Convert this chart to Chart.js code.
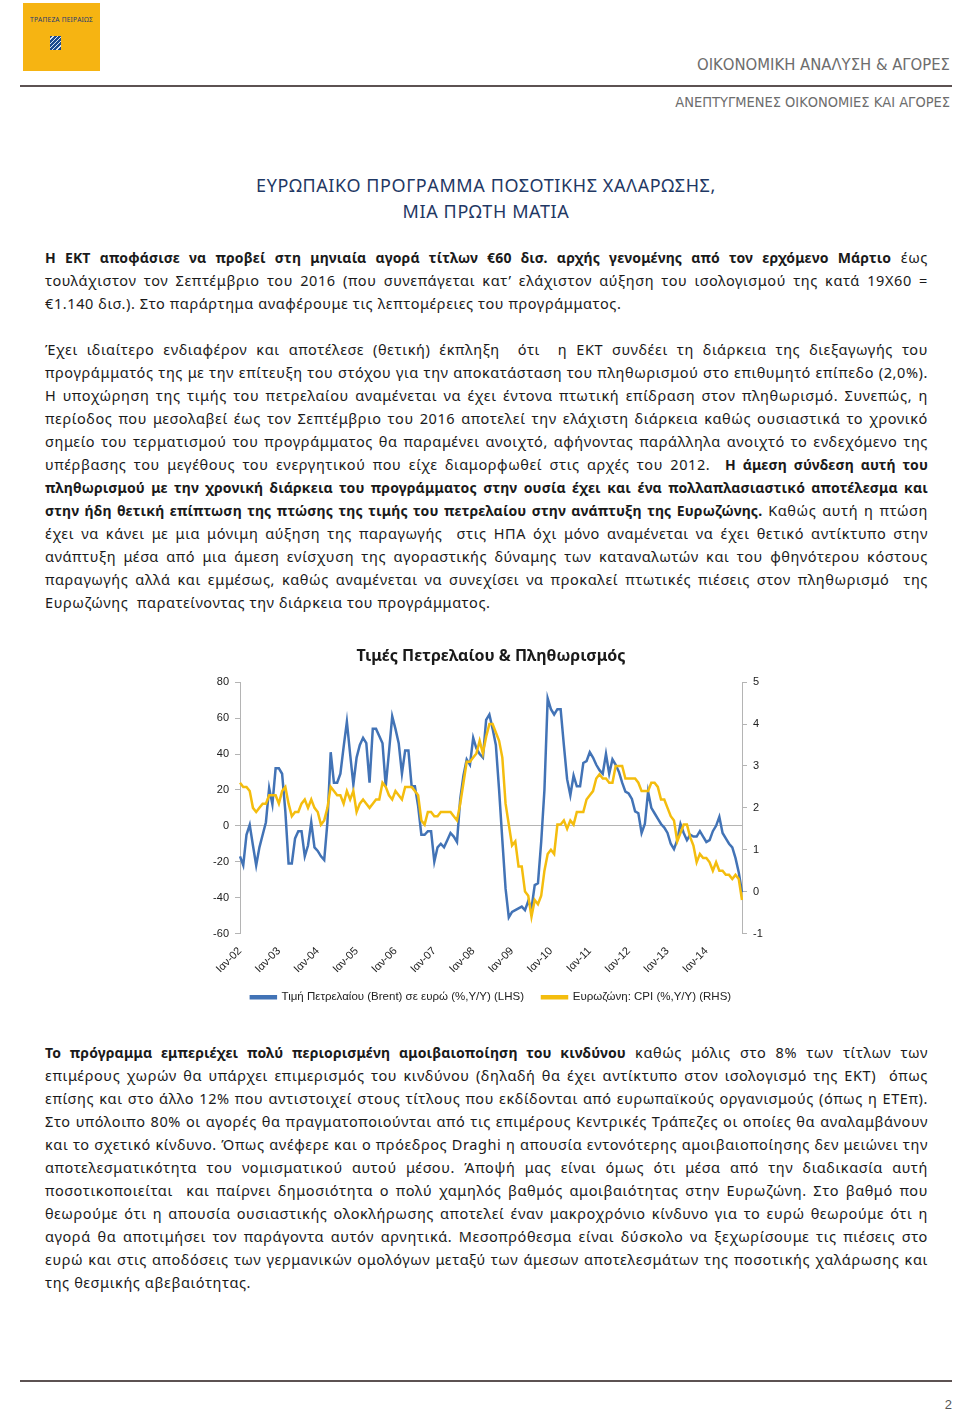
<!DOCTYPE html>
<html lang="el">
<head>
<meta charset="utf-8">
<script src="https://cdn.jsdelivr.net/npm/chart.js@4.4.1/dist/chart.umd.min.js"></script>
<style>
  body { margin: 0; background: #fff; }
  #page { position: relative; width: 960px; height: 1416px; overflow: hidden;
          font-family: "Noto Sans", "Open Sans", sans-serif; color: #1a1a1a; }
  .abs { position: absolute; }
  #logo { left: 23px; top: 3px; width: 77px; height: 68px; background: #f6b412; }
  #logo .bank { position: absolute; left: 0; width: 77px; top: 12px; text-align: center;
                font-size: 6.6px; color: #1d3a73; letter-spacing: 0.2px; white-space: nowrap; }
  #logo .icon { position: absolute; left: 27px; top: 33px; width: 11px; height: 14px;
                background: repeating-linear-gradient(135deg, #1d4a8f 0 2px, #d9e3f2 2px 3px); }
  .hdr { right: 10px; color: #6d6d6d; font-family: "Liberation Sans Narrow", "DejaVu Sans Condensed", sans-serif; white-space: nowrap; }
  .rule { left: 20px; width: 932px; height: 2px; background: #5c5252; }
  #title { left: 0; width: 972px; top: 172px; text-align: center; color: #1f3864;
           font-size: 18px; letter-spacing: 0.6px; line-height: 26px; }
  .para { left: 45px; width: 883px; font-size: 14.5px; letter-spacing: 0.6px; line-height: 23px; }
  .ln { white-space: nowrap; }
  .j { text-align: justify; text-align-last: justify; }
  b { font-weight: 700; font-size: 14px; letter-spacing: 0.15px; }
  #chartBox { left: 0; top: 643px; width: 960px; height: 370px; }
</style>
</head>
<body>
<div id="page">
  <div id="logo" class="abs"><div class="bank">ΤΡΑΠΕΖΑ ΠΕΙΡΑΙΩΣ</div><div class="icon"></div></div>
  <div class="abs hdr" style="top:55px;font-size:16.5px;">ΟΙΚΟΝΟΜΙΚΗ ΑΝΑΛΥΣΗ &amp; ΑΓΟΡΕΣ</div>
  <div class="abs rule" style="top:85px;"></div>
  <div class="abs hdr" style="top:94px;font-size:14.5px;">ΑΝΕΠΤΥΓΜΕΝΕΣ ΟΙΚΟΝΟΜΙΕΣ ΚΑΙ ΑΓΟΡΕΣ</div>

  <div id="title" class="abs">ΕΥΡΩΠΑΙΚΟ ΠΡΟΓΡΑΜΜΑ ΠΟΣΟΤΙΚΗΣ ΧΑΛΑΡΩΣΗΣ,<br>ΜΙΑ ΠΡΩΤΗ ΜΑΤΙΑ</div>

  <div class="abs para" style="top:246px;">
    <div class="ln j"><b>Η ΕΚΤ αποφάσισε να προβεί στη μηνιαία αγορά τίτλων €60 δισ. αρχής γενομένης από τον ερχόμενο Μάρτιο</b> έως</div>
    <div class="ln j">τουλάχιστον τον Σεπτέμβριο του 2016 (που συνεπάγεται κατ’ ελάχιστον αύξηση του ισολογισμού της κατά 19Χ60 =</div>
    <div class="ln">€1.140 δισ.). Στο παράρτημα αναφέρουμε τις λεπτομέρειες του προγράμματος.</div>
  </div>

  <div class="abs para" style="top:338px;">
    <div class="ln j">Έχει ιδιαίτερο ενδιαφέρον και αποτέλεσε (θετική) έκπληξη &nbsp;ότι &nbsp;η ΕΚΤ συνδέει τη διάρκεια της διεξαγωγής του</div>
    <div class="ln j">προγράμματός της με την επίτευξη του στόχου για την αποκατάσταση του πληθωρισμού στο επιθυμητό επίπεδο (2,0%).</div>
    <div class="ln j">Η υποχώρηση της τιμής του πετρελαίου αναμένεται να έχει έντονα πτωτική επίδραση στον πληθωρισμό. Συνεπώς, η</div>
    <div class="ln j">περίοδος που μεσολαβεί έως τον Σεπτέμβριο του 2016 αποτελεί την ελάχιστη διάρκεια καθώς ουσιαστικά το χρονικό</div>
    <div class="ln j">σημείο του τερματισμού του προγράμματος θα παραμένει ανοιχτό, αφήνοντας παράλληλα ανοιχτό το ενδεχόμενο της</div>
    <div class="ln j">υπέρβασης του μεγέθους του ενεργητικού που είχε διαμορφωθεί στις αρχές του 2012. &nbsp;<b>Η άμεση σύνδεση αυτή του</b></div>
    <div class="ln j"><b>πληθωρισμού με την χρονική διάρκεια του προγράμματος στην ουσία έχει και ένα πολλαπλασιαστικό αποτέλεσμα και</b></div>
    <div class="ln j"><b>στην ήδη θετική επίπτωση της πτώσης της τιμής του πετρελαίου στην ανάπτυξη της Ευρωζώνης.</b> Καθώς αυτή η πτώση</div>
    <div class="ln j">έχει να κάνει με μια μόνιμη αύξηση της παραγωγής &nbsp;στις ΗΠΑ όχι μόνο αναμένεται να έχει θετικό αντίκτυπο στην</div>
    <div class="ln j">ανάπτυξη μέσα από μια άμεση ενίσχυση της αγοραστικής δύναμης των καταναλωτών και του φθηνότερου κόστους</div>
    <div class="ln j">παραγωγής αλλά και εμμέσως, καθώς αναμένεται να συνεχίσει να προκαλεί πτωτικές πιέσεις στον πληθωρισμό &nbsp;της</div>
    <div class="ln">Ευρωζώνης &nbsp;παρατείνοντας την διάρκεια του προγράμματος.</div>
  </div>

  <div class="abs" id="chartBox"><canvas id="oilChart" width="960" height="370"></canvas></div>

  <div class="abs para" style="top:1041px;">
    <div class="ln j"><b>Το πρόγραμμα εμπεριέχει πολύ περιορισμένη αμοιβαιοποίηση του κινδύνου</b> καθώς μόλις στο 8% των τίτλων των</div>
    <div class="ln j">επιμέρους χωρών θα υπάρχει επιμερισμός του κινδύνου (δηλαδή θα έχει αντίκτυπο στον ισολογισμό της ΕΚΤ) &nbsp;όπως</div>
    <div class="ln j">επίσης και στο άλλο 12% που αντιστοιχεί στους τίτλους που εκδίδονται από ευρωπαϊκούς οργανισμούς (όπως η ΕΤΕπ).</div>
    <div class="ln j">Στο υπόλοιπο 80% οι αγορές θα πραγματοποιούνται από τις επιμέρους Κεντρικές Τράπεζες οι οποίες θα αναλαμβάνουν</div>
    <div class="ln j">και το σχετικό κίνδυνο. Όπως ανέφερε και ο πρόεδρος Draghi η απουσία εντονότερης αμοιβαιοποίησης δεν μειώνει την</div>
    <div class="ln j">αποτελεσματικότητα του νομισματικού αυτού μέσου. Άποψή μας είναι όμως ότι μέσα από την διαδικασία αυτή</div>
    <div class="ln j">ποσοτικοποιείται &nbsp;και παίρνει δημοσιότητα ο πολύ χαμηλός βαθμός αμοιβαιότητας στην Ευρωζώνη. Στο βαθμό που</div>
    <div class="ln j">θεωρούμε ότι η απουσία ουσιαστικής ολοκλήρωσης αποτελεί έναν μακροχρόνιο κίνδυνο για το ευρώ θεωρούμε ότι η</div>
    <div class="ln j">αγορά θα αποτιμήσει τον παράγοντα αυτόν αρνητικά. Μεσοπρόθεσμα είναι δύσκολο να ξεχωρίσουμε τις πιέσεις στο</div>
    <div class="ln j">ευρώ και στις αποδόσεις των γερμανικών ομολόγων μεταξύ των άμεσων αποτελεσμάτων της ποσοτικής χαλάρωσης και</div>
    <div class="ln">της θεσμικής αβεβαιότητας.</div>
  </div>

  <div class="abs rule" style="top:1380px;"></div>
  <div class="abs" style="right:8px;top:1397px;font-size:13px;color:#555;font-family:'Liberation Sans Narrow',sans-serif;">2</div>
</div>

<script>
// month / year parts of the category labels (Ιαν-02 ... Δεκ-14)
const monthNames = ['Ιαν', 'Φεβ', 'Μαρ', 'Απρ', 'Μαϊ', 'Ιουν', 'Ιουλ', 'Αυγ', 'Σεπ', 'Οκτ', 'Νοε', 'Δεκ'];
const years = ['02', '03', '04', '05', '06', '07', '08', '09', '10', '11', '12', '13', '14'];

// Brent in euro, % y/y (LHS), one row per year
const brentEur = [
  -17, -22, -5, 0.5, -11, -22, -12, -5, 2, 21, 12, 32,      // 2002
  32, 29, 8, -21, -21, -7, -3, -3, -17, -11, 2, -12,        // 2003
  -14, -17, -19, 2, 41, 24, 24, 29, 44, 58, 40, 23,         // 2004
  38, 45, 49, 46, 24, 54, 54, 50, 46, 22, 41, 61,           // 2005
  54, 46, 29, 42, 42, 22, 22, 11, -5, -5, -3, -3,           // 2006
  -20, -12, -10, -12, -8, -4, -6, -9, 15, 28, 37, 34,       // 2007
  49, 43, 40, 38, 59, 62, 54, 45, 20, -8, -35, -51,         // 2008
  -48, -47, -46, -45, -47, -42, -46, -33, -32, -9, 20, 71,  // 2009
  65, 62, 65, 65, 45, 26, 17, 28, 22, 22, 35, 36,           // 2010
  41, 38, 34, 31, 29, 40, 29, 37, 34, 30, 24, 19,           // 2011
  18, 15, 8, 7, -4, 1, 19, 10, 7, 4, 1, -1,                 // 2012
  -4, -10, -13, -8, 1, -4, -8, -5, -6, -6, -3, -6,          // 2013
  -9, -8, -3, 0, 5, -4, -7, -10, -12, -18, -26, -37         // 2014
];

// Eurozone CPI, % y/y (RHS)
const euroCpi = [
  2.6, 2.5, 2.5, 2.4, 2.0, 1.9, 2.0, 2.1, 2.1, 2.3, 2.3, 2.3,
  2.1, 2.4, 2.5, 2.1, 1.8, 1.9, 1.9, 2.1, 2.2, 2.0, 2.2, 2.0,
  1.9, 1.6, 1.7, 2.0, 2.5, 2.4, 2.3, 2.3, 2.1, 2.4, 2.2, 2.4,
  1.9, 2.1, 2.2, 2.1, 2.0, 2.1, 2.2, 2.2, 2.6, 2.5, 2.3, 2.2,
  2.4, 2.3, 2.2, 2.5, 2.5, 2.5, 2.4, 2.3, 1.7, 1.6, 1.9, 1.9,
  1.8, 1.8, 1.9, 1.9, 1.9, 1.9, 1.8, 1.7, 2.1, 2.6, 3.1, 3.1,
  3.2, 3.3, 3.6, 3.3, 3.7, 4.0, 4.0, 3.8, 3.6, 3.2, 2.1, 1.6,
  1.1, 1.2, 0.6, 0.6, 0.0, -0.1, -0.6, -0.2, -0.3, -0.1, 0.5, 0.9,
  1.0, 0.9, 1.6, 1.6, 1.7, 1.5, 1.7, 1.6, 1.9, 1.9, 1.9, 2.2,
  2.3, 2.4, 2.7, 2.8, 2.7, 2.7, 2.6, 2.6, 3.0, 3.0, 3.0, 2.7,
  2.7, 2.7, 2.7, 2.6, 2.4, 2.4, 2.4, 2.6, 2.6, 2.5, 2.2, 2.2,
  2.0, 1.8, 1.7, 1.2, 1.4, 1.6, 1.6, 1.3, 1.1, 0.7, 0.9, 0.8,
  0.8, 0.7, 0.5, 0.7, 0.5, 0.5, 0.4, 0.4, 0.3, 0.4, 0.3, -0.2
];

const labels = [];
years.forEach(y => monthNames.forEach(m => labels.push(m + '-' + y)));

const axisGrey = '#b4b4b4';
const tickFont = { family: 'Liberation Sans, Arial, sans-serif', size: 11 };

const ctx = document.getElementById('oilChart').getContext('2d');
new Chart(ctx, {
  type: 'line',
  data: {
    labels: labels,
    datasets: [
      {
        label: 'Τιμή Πετρελαίου (Brent) σε ευρώ (%,Y/Y) (LHS)',
        data: brentEur,
        yAxisID: 'y',
        borderColor: '#4273b6',
        backgroundColor: '#4273b6',
        borderWidth: 2.5,
        pointRadius: 0,
        order: 1
      },
      {
        label: 'Ευρωζώνη: CPI (%,Y/Y) (RHS)',
        data: euroCpi,
        yAxisID: 'y1',
        borderColor: '#f4bd0e',
        backgroundColor: '#f4bd0e',
        borderWidth: 2.5,
        pointRadius: 0,
        order: 0
      }
    ]
  },
  options: {
    responsive: false,
    animation: false,
    layout: { padding: { left: 190, right: 168, top: 0, bottom: 0 } },
    plugins: {
      title: {
        display: true,
        text: 'Τιμές Πετρελαίου & Πληθωρισμός',
        color: '#1a1a1a',
        font: { family: 'Noto Sans, sans-serif', size: 16, weight: 'bold', lineHeight: 1.2 },
        padding: { top: 4, bottom: 16 }
      },
      legend: {
        position: 'bottom',
        labels: {
          color: '#222',
          font: { family: 'Liberation Sans, Arial, sans-serif', size: 11.5 },
          boxWidth: 25,
          boxHeight: 2,
          padding: 18,
          sort: (a, b) => a.datasetIndex - b.datasetIndex
        }
      },
      tooltip: { enabled: false }
    },
    scales: {
      x: {
        grid: { display: false },
        border: { display: false },
        afterFit: s => { s.height = 40; },
        ticks: {
          autoSkip: false,
          minRotation: 45,
          maxRotation: 45,
          color: '#222',
          font: tickFont,
          callback: (v, i) => (i % 12 === 0 ? labels[i] : null)
        }
      },
      y: {
        position: 'left',
        min: -60,
        max: 80,
        afterFit: s => { s.width = 50; },
        border: { color: axisGrey },
        grid: {
          color: c => (c.tick && c.tick.value === 0 ? axisGrey : 'rgba(0,0,0,0)'),
          tickColor: axisGrey,
          tickLength: 5
        },
        ticks: { stepSize: 20, color: '#222', font: tickFont, padding: 6 }
      },
      y1: {
        position: 'right',
        min: -1,
        max: 5,
        afterFit: s => { s.width = 50; },
        border: { color: axisGrey },
        grid: { drawOnChartArea: false, tickColor: axisGrey, tickLength: 5 },
        ticks: { stepSize: 1, color: '#222', font: tickFont, padding: 6 }
      }
    }
  }
});
</script>
</body>
</html>
